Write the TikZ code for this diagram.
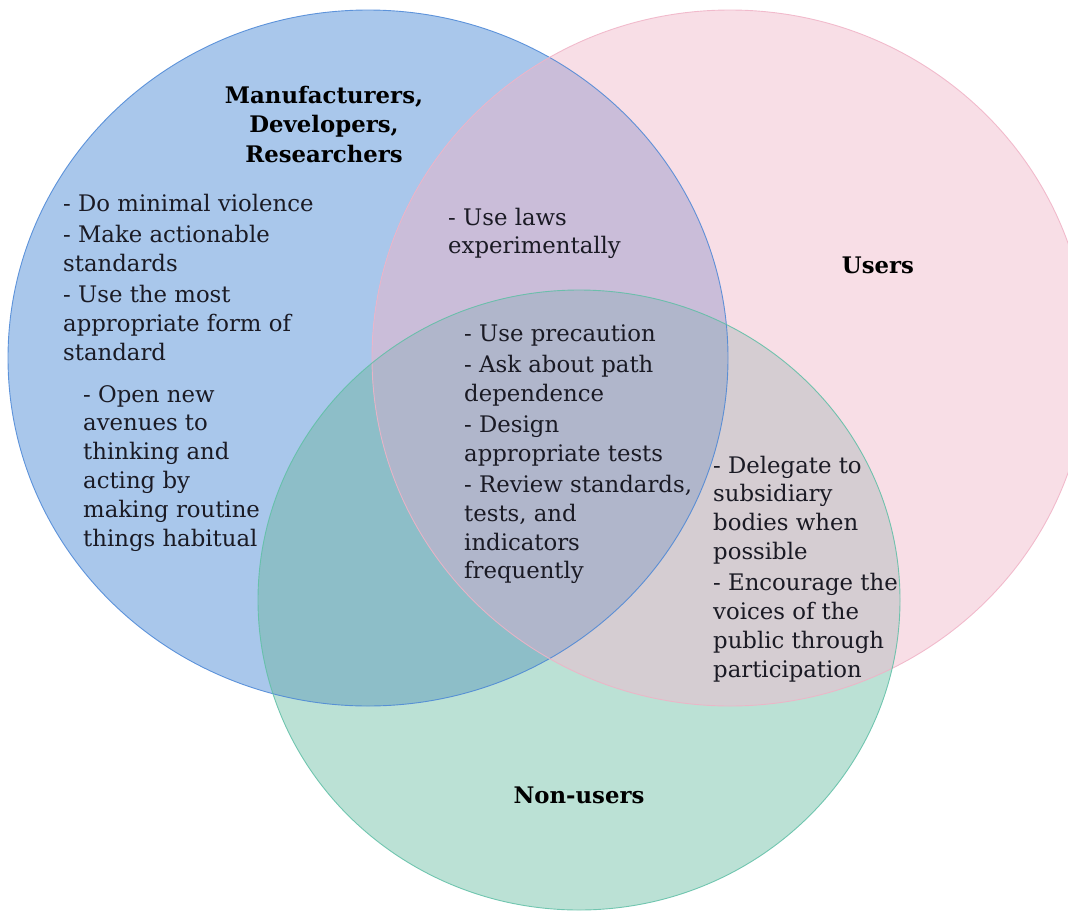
\documentclass[tikz,border=0pt]{standalone}
\usepackage{fontspec}
\setmainfont{DejaVu Serif}
\definecolor{blueF}{HTML}{A9C7EB}
\definecolor{pinkF}{HTML}{F8DEE6}
\definecolor{greenF}{HTML}{BBE1D5}
\definecolor{bpF}{HTML}{CABDD9}
\definecolor{bgF}{HTML}{8DBEC8}
\definecolor{pgF}{HTML}{D5CDD2}
\definecolor{bpgF}{HTML}{B0B6CB}
\definecolor{blueL}{HTML}{4A86D6}
\definecolor{pinkL}{HTML}{F0B2C6}
\definecolor{greenL}{HTML}{5FBFA6}
\definecolor{inkT}{HTML}{1A1A24}
% top-aligned line stacks, so that a node's base anchor is its first baseline
\newcommand{\leftstack}[1]{\begin{tabular}[t]{@{}l@{}}#1\end{tabular}}
\newcommand{\centerstack}[1]{\begin{tabular}[t]{@{}c@{}}#1\end{tabular}}
\begin{document}
\begin{tikzpicture}[x=1pt,y=-1pt,
  txt/.style={inner sep=0pt, text=inkT, anchor=base west,
    font=\fontsize{22.8}{28.8}\selectfont},
  head/.style={inner sep=0pt, text=black, anchor=base,
    font=\fontsize{22.8}{29.5}\selectfont\bfseries},
  edge/.style={line width=0.9pt, opacity=0.85}]
\def\blueE{(368,358) ellipse [x radius=360pt, y radius=348pt]}
\def\pinkE{(730,358) ellipse [x radius=358pt, y radius=348pt]}
\def\greenE{(579,600) ellipse [x radius=321pt, y radius=310pt]}
\useasboundingbox (0,0) rectangle (1068,911);
\begin{scope}
\clip (0,0) rectangle (1068,911);
% single-set fills
\fill[blueF] \blueE;
\fill[pinkF] \pinkE;
\fill[greenF] \greenE;
% pairwise overlaps
\begin{scope}\clip \blueE; \fill[bpF] \pinkE; \end{scope}
\begin{scope}\clip \blueE; \fill[bgF] \greenE; \end{scope}
\begin{scope}\clip \pinkE; \fill[pgF] \greenE; \end{scope}
% triple overlap
\begin{scope}\clip \blueE; \clip \pinkE; \fill[bpgF] \greenE; \end{scope}
% outlines
\draw[edge, blueL] \blueE;
\draw[edge, pinkL] \pinkE;
\draw[edge, greenL] \greenE;
\end{scope}

% set labels
\node[head] (mfr) at (324,103) {\centerstack{Manufacturers,\\Developers,\\Researchers}};
\node[head] (users) at (878,273) {Users};
\node[head] (nonusers) at (579,803) {Non-users};

% region texts
\node[txt] (mfrA) at (63,211)
  {\leftstack{- Do minimal violence\\[2.5pt]- Make actionable\\standards\\[2.5pt]- Use the most\\appropriate form of\\standard}};
\node[txt] (mfrB) at (83,402)
  {\leftstack{- Open new\\avenues to\\thinking and\\acting by\\making routine\\things habitual}};
\node[txt] (mfrusers) at (448,225)
  {\leftstack{- Use laws\\experimentally}};
\node[txt] (allsets) at (464,341)
  {\leftstack{- Use precaution\\[2.5pt]- Ask about path\\dependence\\[2.5pt]- Design\\appropriate tests\\[2.5pt]- Review standards,\\tests, and\\indicators\\frequently}};
\node[txt] (usersnon) at (713,473)
  {\leftstack{- Delegate to\\subsidiary\\bodies when\\possible\\[2.5pt]- Encourage the\\voices of the\\public through\\participation}};
\end{tikzpicture}
\end{document}
